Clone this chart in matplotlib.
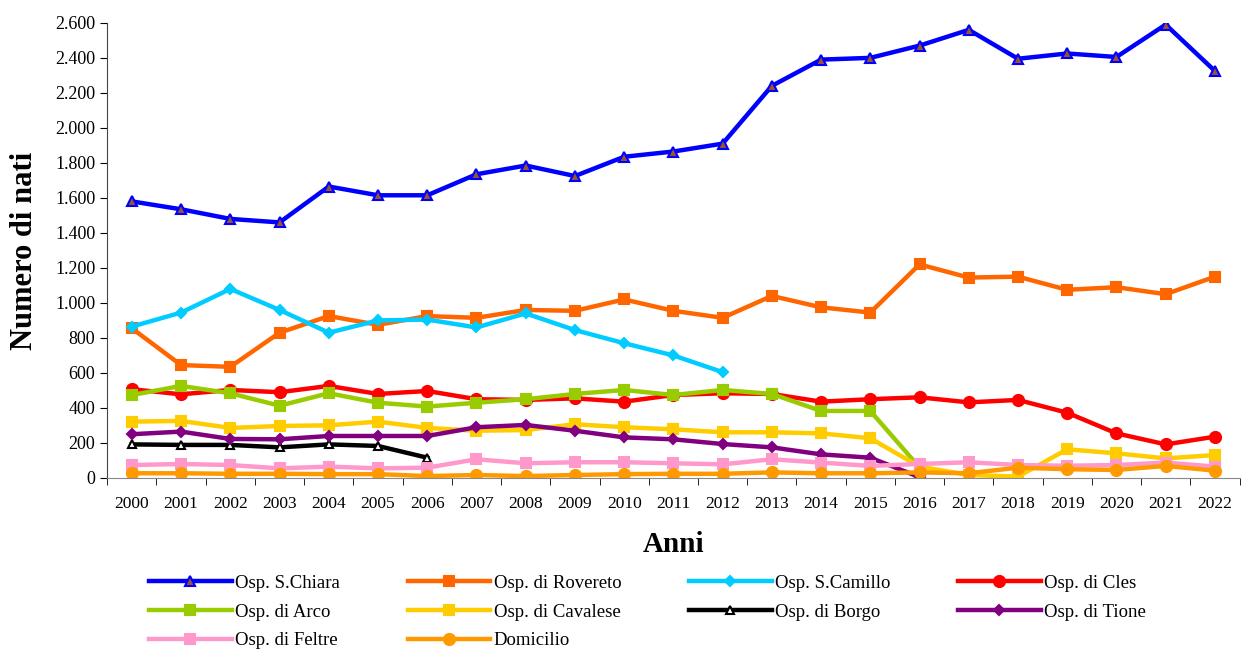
import numpy as np
import matplotlib
matplotlib.use("Agg")
import matplotlib.pyplot as plt
from matplotlib.ticker import FuncFormatter

plt.rcParams['font.family'] = ['Liberation Serif', 'DejaVu Serif']

# anni
anni = list(range(2000, 2023))

# nati per punto nascita
s_chiara = [1580, 1535, 1480, 1460, 1665, 1615, 1615, 1735, 1785, 1725, 1835, 1865,
            1910, 2240, 2390, 2400, 2470, 2560, 2395, 2425, 2405, 2590, 2325]
rovereto = [855, 645, 635, 830, 925, 875, 925, 915, 960, 955, 1020, 955,
            915, 1040, 975, 945, 1220, 1145, 1150, 1075, 1090, 1050, 1150]
s_camillo = [865, 945, 1080, 960, 830, 900, 905, 860, 940, 845, 770, 700, 605]
cles = [507, 478, 503, 490, 526, 480, 497, 450, 446, 455, 436, 474,
        484, 480, 436, 450, 461, 432, 446, 373, 255, 192, 236]
arco = [474, 526, 484, 413, 484, 430, 408, 430, 450, 480, 503, 474,
        503, 480, 383, 383, 60]
cavalese = [322, 326, 286, 297, 301, 322, 286, 270, 274, 307, 290, 278,
            261, 261, 255, 227, 65, 17, 8, 164, 141, 112, 131]
borgo = [192, 189, 189, 175, 192, 183, 116]
tione = [250, 265, 223, 221, 240, 240, 240, 290, 303, 270, 232, 221,
         194, 175, 135, 116, 5]
feltre = [74, 80, 74, 55, 65, 55, 59, 107, 84, 90, 90, 84,
          78, 107, 88, 69, 80, 90, 74, 70, 74, 88, 65]
domicilio = [27, 27, 24, 24, 22, 22, 11, 17, 11, 17, 22, 24,
             24, 32, 27, 27, 32, 27, 59, 50, 46, 69, 42]

serie = [
    ("Osp. S.Chiara", s_chiara, "#0000FF", "^", "#A0522D", 7),
    ("Osp. di Rovereto", rovereto, "#FF6600", "s", "#FF6600", 7),
    ("Osp. S.Camillo", s_camillo, "#00CCFF", "D", "#00CCFF", 5),
    ("Osp. di Cles", cles, "#FF0000", "o", "#FF0000", 8),
    ("Osp. di Arco", arco, "#99CC00", "s", "#99CC00", 7),
    ("Osp. di Cavalese", cavalese, "#FFCC00", "s", "#FFCC00", 7),
    ("Osp. di Borgo", borgo, "#000000", "^", "#FFFFFF", 6),
    ("Osp. di Tione", tione, "#800080", "D", "#800080", 5),
    ("Osp. di Feltre", feltre, "#FF99CC", "s", "#FF99CC", 7),
    ("Domicilio", domicilio, "#FF9900", "o", "#FF9900", 8),
]

fig = plt.figure(figsize=(12.47, 6.53), dpi=100)
ax = fig.add_axes([0.086, 0.268, 0.908, 0.697])

linee = []
for nome, valori, colore, marker, fill, ms in serie:
    l, = ax.plot(anni[:len(valori)], valori, color=colore, lw=3.2, marker=marker,
                 markersize=ms, markerfacecolor=fill, markeredgecolor=colore,
                 markeredgewidth=1.5, label=nome)
    linee.append(l)

ax.set_xlim(1999.5, 2022.5)
ax.set_ylim(0, 2600)
ax.set_yticks(np.arange(0, 2601, 200))
ax.yaxis.set_major_formatter(FuncFormatter(lambda v, p: f"{int(v):,}".replace(",", ".")))
ax.set_xticks(anni)
ax.set_xticks(np.arange(1999.5, 2023, 1), minor=True)
ax.tick_params(axis='x', which='major', length=0, labelsize=12.5, pad=13)
ax.tick_params(axis='x', which='minor', length=5, direction='out')
ax.tick_params(axis='y', labelsize=13, length=5, direction='out')
ax.spines['top'].set_visible(False)
ax.spines['right'].set_visible(False)
ax.spines['left'].set_color('#444444')
ax.spines['bottom'].set_color('#888888')

ax.set_xlabel("Anni", fontsize=21, fontweight='bold', labelpad=14)
ax.set_ylabel("Numero di nati", fontsize=22, fontweight='bold', labelpad=12)

# legenda riga per riga (matplotlib riempie per colonne)
ordine = [0, 4, 8, 1, 5, 9, 2, 6, 3, 7]
fig.legend([linee[i] for i in ordine], [serie[i][0] for i in ordine],
           loc='upper left', bbox_to_anchor=(0.112, 0.134), ncol=4, frameon=False,
           fontsize=13.5, handlelength=4.4, handletextpad=0.2, columnspacing=3.6,
           labelspacing=0.62, borderpad=0)

fig.savefig("out.png", dpi=100)
